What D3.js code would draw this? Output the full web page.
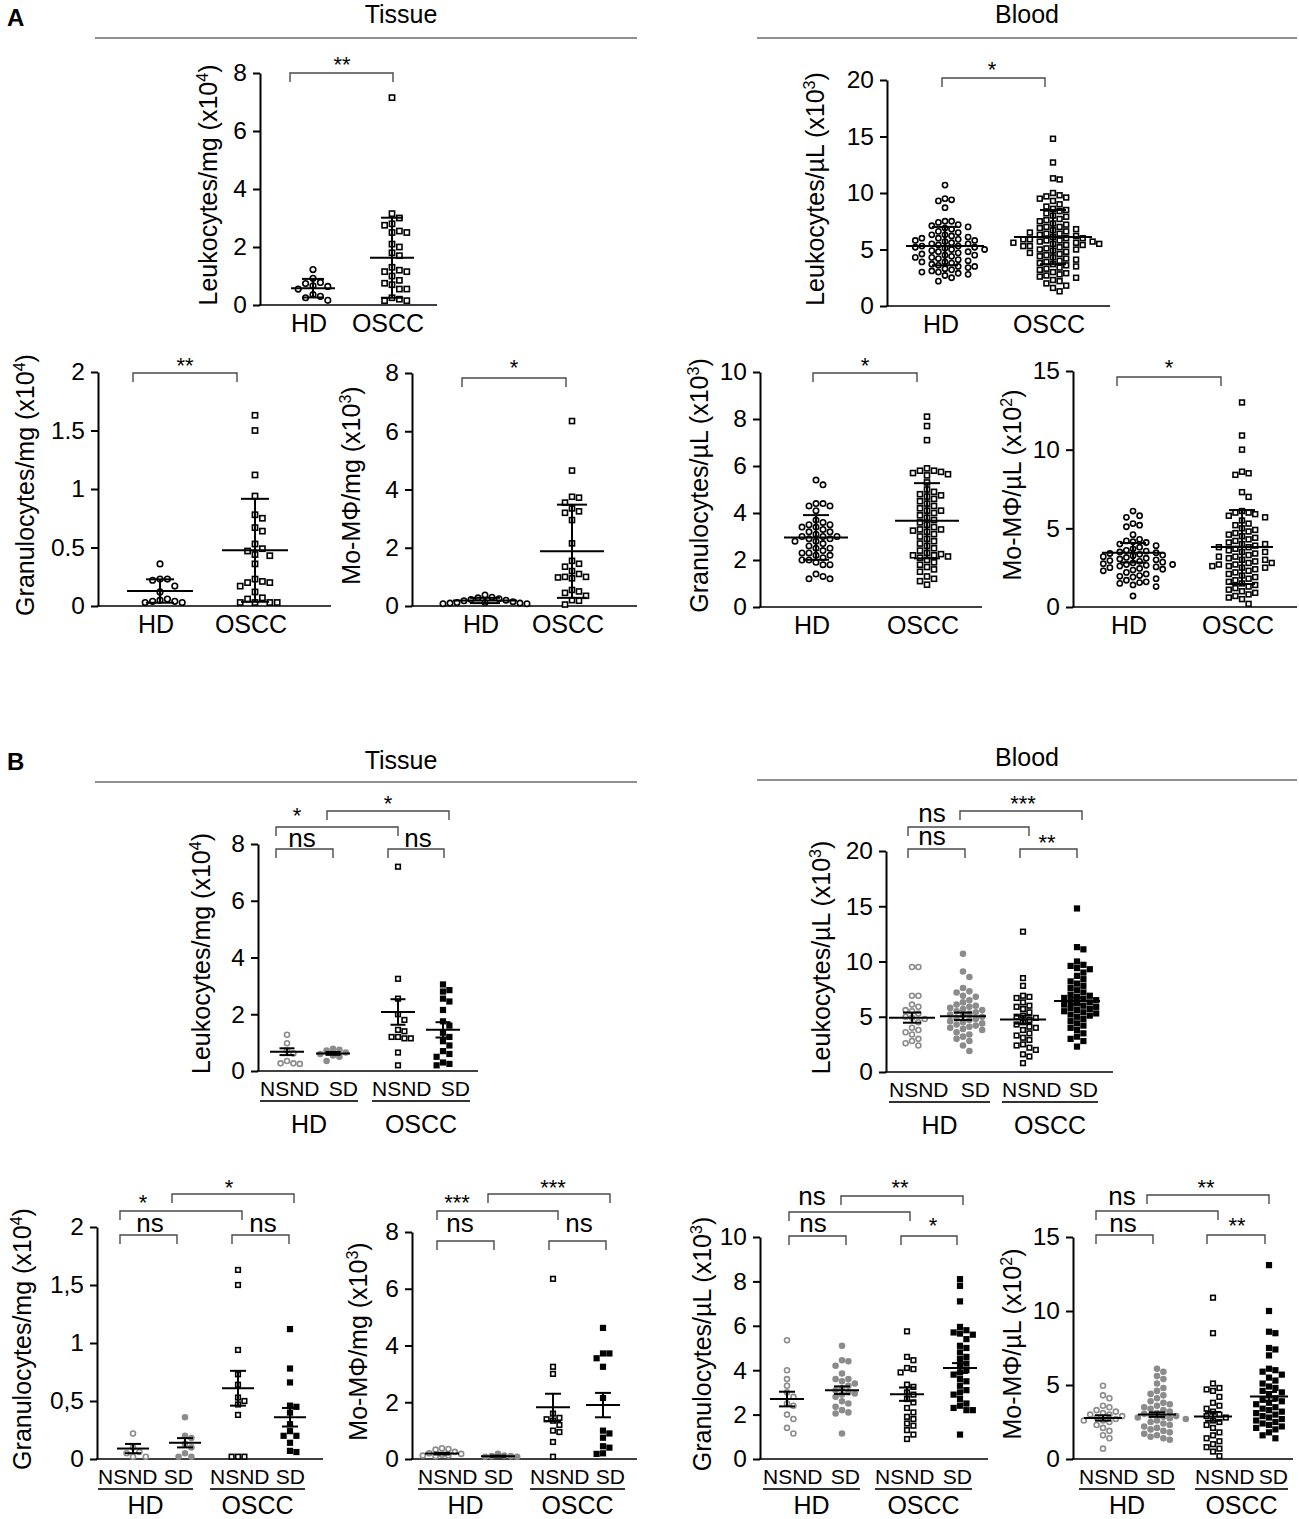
<!DOCTYPE html>
<html>
<head>
<meta charset="utf-8">
<script src="https://cdn.jsdelivr.net/npm/d3@7"></script>
<style>
  body { margin: 0; background: #fff; }
  svg { display: block; }
</style>
</head>
<body>
<script>
const FONT = "'Liberation Sans', Arial, Helvetica, sans-serif";

// ---------- categories ----------
const groupsA = ["HD", "OSCC"];
const subgroupsB = ["NSND", "SD"];
const cohortsB = ["HD", "OSCC"];

// ---------- tick values / labels ----------
const ticksTisLeuk = [0, 2, 4, 6, 8];
const ticksBldLeuk = [0, 5, 10, 15, 20];
const ticksTisGran = [0, 0.5, 1, 1.5, 2];
const ticksTisMo = [0, 2, 4, 6, 8];
const ticksBldGran = [0, 2, 4, 6, 8, 10];
const ticksBldMo = [0, 5, 10, 15];
const tickLabelsTisGranA = ["0", "0.5", "1", "1.5", "2"];
const tickLabelsTisGranB = ["0", "0,5", "1", "1,5", "2"];

// ---------- axis titles [text, superscript, tail] ----------
const titleTisLeuk = ["Leukocytes/mg (x10", "4", ")"];
const titleBldLeuk = ["Leukocytes/\u00b5L (x10", "3", ")"];
const titleTisGran = ["Granulocytes/mg (x10", "4", ")"];
const titleTisMo = ["Mo-M\u03a6/mg (x10", "3", ")"];
const titleBldGran = ["Granulocytes/\u00b5L (x10", "3", ")"];
const titleBldMo = ["Mo-M\u03a6/\u00b5L (x10", "2", ")"];

// ---------- A: HD vs OSCC (mean ± SD) ----------
const aTisLeukHD = [1.22, 0.92, 0.78, 0.74, 0.66, 0.64, 0.55, 0.36, 0.3, 0.25, 0.16];
const aTisLeukOSCC = [7.15, 3.15, 3.0, 2.8, 2.75, 2.55, 2.5, 2.5, 2.1, 2.0, 1.8, 1.7, 1.3, 1.2, 1.15, 1.15, 1.0, 0.85, 0.75, 0.7, 0.55, 0.55, 0.25, 0.2, 0.15, 0.15];
const aTisLeukMean = [0.58, 1.63];
const aTisLeukErr = [0.32, 1.38];

const aBldLeukHD = [10.7, 9.5, 9.4, 9.3, 8.7, 7.5, 7.5, 7.4, 7.2, 7.1, 7.0, 6.9, 6.8, 6.6, 6.5, 6.3, 6.3, 6.2, 6.1, 6.0, 6.0, 5.9, 5.8, 5.8, 5.7, 5.6, 5.5, 5.5, 5.4, 5.3, 5.3, 5.2, 5.2, 5.1, 5.0, 5.0, 4.9, 4.8, 4.8, 4.7, 4.6, 4.5, 4.5, 4.4, 4.3, 4.3, 4.2, 4.1, 4.0, 3.9, 3.9, 3.8, 3.7, 3.6, 3.5, 3.5, 3.4, 3.3, 3.2, 3.1, 3.0, 3.0, 2.9, 2.8, 2.7, 2.5, 2.2];
const aBldLeukOSCC = [14.8, 12.7, 11.3, 11.2, 10.0, 9.8, 9.7, 9.6, 9.5, 9.3, 9.0, 8.8, 8.6, 8.5, 8.4, 8.2, 8.0, 7.9, 7.7, 7.6, 7.5, 7.3, 7.2, 7.0, 7.0, 6.9, 6.8, 6.7, 6.6, 6.5, 6.4, 6.4, 6.3, 6.2, 6.1, 6.0, 6.0, 5.9, 5.9, 5.8, 5.8, 5.7, 5.7, 5.6, 5.6, 5.5, 5.5, 5.4, 5.4, 5.3, 5.3, 5.2, 5.1, 5.0, 5.0, 4.9, 4.8, 4.7, 4.6, 4.5, 4.4, 4.3, 4.2, 4.1, 4.0, 3.9, 3.8, 3.7, 3.6, 3.5, 3.4, 3.3, 3.2, 3.0, 2.9, 2.8, 2.7, 2.6, 2.5, 2.3, 2.2, 2.0, 1.8, 1.6, 1.3];
const aBldLeukMean = [5.3, 6.1];
const aBldLeukErr = [1.7, 2.4];

const aTisGranHD = [0.36, 0.23, 0.23, 0.22, 0.17, 0.12, 0.06, 0.05, 0.04, 0.04, 0.03, 0.03];
const aTisGranOSCC = [1.63, 1.5, 1.12, 0.94, 0.78, 0.75, 0.67, 0.64, 0.53, 0.49, 0.47, 0.44, 0.43, 0.36, 0.23, 0.21, 0.2, 0.2, 0.17, 0.12, 0.07, 0.06, 0.03, 0.03, 0.03, 0.03];
const aTisGranMean = [0.128, 0.476];
const aTisGranErr = [0.1, 0.44];

const aTisMoHD = [0.38, 0.3, 0.28, 0.25, 0.22, 0.2, 0.18, 0.15, 0.12, 0.12, 0.1, 0.1, 0.08, 0.08];
const aTisMoOSCC = [6.35, 4.65, 3.75, 3.72, 3.55, 3.35, 3.25, 3.2, 2.95, 2.15, 1.55, 1.45, 1.35, 1.2, 1.1, 1.0, 0.98, 1.0, 0.95, 0.55, 0.5, 0.45, 0.35, 0.2, 0.18, 0.05];
const aTisMoMean = [0.19, 1.88];
const aTisMoErr = [0.09, 1.6];

const aBldGranHD = [5.4, 5.2, 4.4, 4.4, 4.3, 4.3, 4.1, 3.7, 3.6, 3.5, 3.5, 3.4, 3.4, 3.3, 3.2, 3.2, 3.1, 3.0, 3.0, 3.0, 2.9, 2.9, 2.8, 2.8, 2.7, 2.6, 2.5, 2.5, 2.4, 2.3, 2.3, 2.2, 2.2, 2.1, 2.0, 2.0, 1.9, 1.8, 1.8, 1.4, 1.3, 1.2, 1.2];
const aBldGranOSCC = [8.1, 7.7, 7.1, 5.9, 5.8, 5.8, 5.75, 5.7, 5.65, 5.6, 5.3, 5.0, 4.9, 4.8, 4.75, 4.7, 4.6, 4.5, 4.4, 4.3, 4.2, 4.1, 4.1, 4.0, 3.9, 3.8, 3.7, 3.6, 3.5, 3.4, 3.3, 3.3, 3.25, 3.2, 3.1, 3.0, 2.9, 2.8, 2.7, 2.6, 2.5, 2.4, 2.3, 2.25, 2.2, 2.2, 2.15, 2.1, 2.0, 1.9, 1.8, 1.7, 1.6, 1.5, 1.3, 1.2, 1.1, 0.95];
const aBldGranMean = [2.96, 3.67];
const aBldGranErr = [0.95, 1.6];

const aBldMoHD = [6.1, 5.8, 5.7, 5.3, 5.2, 5.1, 4.6, 4.3, 4.2, 4.15, 4.1, 4.0, 3.9, 3.8, 3.7, 3.6, 3.55, 3.5, 3.45, 3.4, 3.35, 3.3, 3.25, 3.2, 3.15, 3.1, 3.05, 3.0, 2.95, 2.9, 2.85, 2.8, 2.75, 2.7, 2.7, 2.65, 2.6, 2.55, 2.5, 2.45, 2.4, 2.35, 2.3, 2.2, 2.1, 2.0, 1.95, 1.9, 1.8, 1.7, 1.6, 1.55, 1.5, 1.4, 1.3, 0.7];
const aBldMoOSCC = [13.0, 10.9, 10.0, 8.6, 8.5, 8.4, 7.3, 7.0, 6.1, 6.0, 6.0, 5.9, 5.8, 5.7, 5.5, 5.3, 5.2, 5.0, 4.9, 4.8, 4.7, 4.6, 4.5, 4.4, 4.3, 4.2, 4.1, 4.0, 4.0, 3.9, 3.8, 3.8, 3.7, 3.6, 3.5, 3.5, 3.4, 3.3, 3.2, 3.2, 3.1, 3.0, 3.0, 2.9, 2.8, 2.8, 2.7, 2.7, 2.6, 2.6, 2.5, 2.5, 2.4, 2.3, 2.2, 2.1, 2.0, 1.9, 1.8, 1.7, 1.6, 1.5, 1.4, 1.3, 1.2, 1.1, 1.0, 0.9, 0.8, 0.7, 0.6, 0.5, 0.2];
const aBldMoMean = [3.45, 3.81];
const aBldMoErr = [0.62, 2.35];

const sigA = ["**", "*", "**", "*", "*", "*"];

// ---------- B: NSND / SD within HD and OSCC (mean ± SEM) ----------
const bTisLeukHDn = [1.28, 0.98, 0.72, 0.62, 0.35, 0.27, 0.25, 0.27];
const bTisLeukHDs = [0.78, 0.75, 0.72, 0.65, 0.6, 0.55, 0.5, 0.35];
const bTisLeukOSn = [7.2, 3.25, 2.55, 2.0, 1.8, 1.45, 1.4, 1.2, 1.2, 1.15, 1.15, 0.65, 0.2];
const bTisLeukOSs = [3.05, 2.85, 2.8, 2.55, 2.45, 2.15, 1.75, 1.6, 1.35, 1.2, 1.05, 0.9, 0.7, 0.6, 0.5, 0.3, 0.25, 0.2];
const bTisLeukMean = [0.68, 0.62, 2.08, 1.45];
const bTisLeukErr = [0.12, 0.05, 0.45, 0.27];
const sigTisLeuk = ["ns", "ns", "*", "*"];

const bBldLeukHDn = [9.5, 9.5, 6.9, 6.9, 6.1, 5.9, 5.6, 5.5, 5.3, 5.0, 4.9, 4.8, 4.5, 4.0, 3.8, 3.6, 3.4, 3.0, 2.8, 2.6, 2.4];
const bBldLeukHDs = [10.7, 9.1, 8.6, 7.6, 7.3, 7.2, 6.9, 6.8, 6.5, 6.3, 6.1, 6.0, 5.9, 5.8, 5.7, 5.6, 5.5, 5.4, 5.3, 5.2, 5.1, 5.0, 4.9, 4.8, 4.7, 4.6, 4.5, 4.4, 4.3, 4.2, 4.1, 4.0, 3.9, 3.8, 3.6, 3.4, 3.2, 3.0, 2.8, 2.4, 1.9];
const bBldLeukOSn = [12.7, 8.5, 7.8, 6.9, 6.8, 6.7, 6.3, 6.0, 5.9, 5.7, 5.4, 5.1, 5.0, 4.9, 4.7, 4.5, 4.3, 4.1, 4.0, 3.8, 3.5, 3.3, 3.1, 2.9, 2.5, 2.4, 2.2, 2.0, 1.6, 1.4, 0.8];
const bBldLeukOSs = [14.8, 11.3, 11.1, 10.0, 9.7, 9.6, 9.4, 9.3, 9.0, 8.7, 8.4, 8.2, 8.0, 7.8, 7.6, 7.4, 7.2, 7.0, 6.9, 6.8, 6.7, 6.6, 6.5, 6.4, 6.3, 6.2, 6.1, 6.0, 5.9, 5.8, 5.7, 5.6, 5.5, 5.4, 5.3, 5.2, 5.1, 5.0, 4.8, 4.6, 4.4, 4.2, 4.0, 3.8, 3.5, 3.2, 3.0, 2.8, 2.3];
const bBldLeukMean = [4.92, 5.04, 4.74, 6.43];
const bBldLeukErr = [0.46, 0.34, 0.36, 0.3];
const sigBldLeuk = ["ns", "ns", "***", "**"];

const bTisGranHDn = [0.22, 0.1, 0.06, 0.05, 0.02, 0.02];
const bTisGranHDs = [0.36, 0.2, 0.18, 0.13, 0.1, 0.05, 0.02, 0.02];
const bTisGranOSn = [1.63, 1.5, 0.94, 0.73, 0.64, 0.53, 0.5, 0.47, 0.38, 0.02, 0.02, 0.02];
const bTisGranOSs = [1.12, 0.78, 0.66, 0.46, 0.45, 0.4, 0.3, 0.24, 0.2, 0.2, 0.14, 0.07, 0.06];
const bTisGranMean = [0.09, 0.14, 0.61, 0.36];
const bTisGranErr = [0.04, 0.04, 0.15, 0.08];
const sigTisGran = ["ns", "ns", "*", "*"];

const bTisMoHDn = [0.38, 0.35, 0.33, 0.25, 0.2, 0.18, 0.15, 0.12, 0.12, 0.1];
const bTisMoHDs = [0.18, 0.12, 0.1, 0.1, 0.08, 0.08];
const bTisMoOSn = [6.35, 3.25, 3.0, 1.6, 1.45, 1.4, 1.35, 1.2, 1.0, 0.95, 0.6, 0.08];
const bTisMoOSs = [4.62, 3.72, 3.72, 3.55, 3.25, 2.15, 1.0, 0.9, 0.75, 0.45, 0.4, 0.2, 0.18];
const bTisMoMean = [0.19, 0.1, 1.82, 1.9];
const bTisMoErr = [0.03, 0.02, 0.48, 0.43];
const sigTisMo = ["ns", "ns", "***", "***"];

const bBldGranHDn = [5.35, 4.0, 3.6, 3.3, 3.0, 2.8, 2.5, 2.4, 2.0, 1.8, 1.4, 1.15];
const bBldGranHDs = [5.1, 4.45, 4.4, 4.2, 3.85, 3.6, 3.6, 3.5, 3.4, 3.3, 3.2, 3.1, 3.0, 2.95, 2.9, 2.8, 2.6, 2.5, 2.35, 2.2, 2.1, 2.05, 1.15];
const bBldGranOSn = [5.75, 4.6, 4.45, 4.1, 4.05, 3.9, 3.35, 3.25, 3.0, 2.9, 2.7, 2.55, 2.3, 2.1, 1.9, 1.8, 1.6, 1.5, 1.3, 1.1, 0.9];
const bBldGranOSs = [8.1, 7.8, 7.1, 5.95, 5.8, 5.7, 5.65, 5.6, 5.4, 5.1, 5.0, 4.8, 4.6, 4.5, 4.3, 4.2, 4.0, 3.9, 3.8, 3.6, 3.5, 3.3, 3.1, 3.0, 2.9, 2.7, 2.5, 2.4, 2.3, 2.2, 2.2, 1.1];
const bBldGranMean = [2.7, 3.1, 2.92, 4.1];
const bBldGranErr = [0.33, 0.17, 0.3, 0.22];
const sigBldGran = ["ns", "ns", "**", "*"];

const bBldMoHDn = [4.95, 4.3, 4.1, 3.6, 3.5, 3.3, 3.2, 3.1, 3.0, 3.0, 2.9, 2.8, 2.7, 2.6, 2.6, 2.5, 2.3, 2.1, 1.9, 1.6, 1.4, 0.7];
const bBldMoHDs = [6.1, 5.9, 5.6, 5.4, 5.1, 4.8, 4.6, 4.4, 4.3, 4.1, 3.9, 3.8, 3.7, 3.6, 3.5, 3.4, 3.3, 3.2, 3.1, 3.05, 2.95, 2.9, 2.85, 2.8, 2.75, 2.7, 2.6, 2.5, 2.4, 2.3, 2.2, 2.1, 2.0, 1.9, 1.8, 1.7, 1.6, 1.5, 1.4, 1.3];
const bBldMoOSn = [10.9, 8.5, 5.1, 4.8, 4.7, 4.6, 4.2, 3.8, 3.6, 3.4, 3.2, 3.0, 2.9, 2.8, 2.6, 2.5, 2.3, 2.1, 1.8, 1.6, 1.4, 1.2, 1.0, 0.8, 0.7, 0.5, 0.2];
const bBldMoOSs = [13.1, 10.0, 8.6, 8.5, 7.5, 7.4, 7.0, 6.1, 6.0, 5.9, 5.7, 5.5, 5.3, 5.1, 4.9, 4.8, 4.6, 4.5, 4.3, 4.1, 4.0, 3.9, 3.8, 3.7, 3.5, 3.4, 3.3, 3.2, 3.1, 3.0, 2.9, 2.8, 2.7, 2.6, 2.5, 2.4, 2.3, 2.2, 2.1, 2.0, 1.8, 1.6, 1.4];
const bBldMoMean = [2.77, 3.0, 2.88, 4.23];
const bBldMoErr = [0.18, 0.15, 0.3, 0.3];
const sigBldMo = ["ns", "ns", "**", "**"];

// ---------- marker styles ----------
const styles = {
  openCircle: { shape: "circle", stroke: "#000", fill: "#fff" },
  openSquare: { shape: "square", stroke: "#000", fill: "#fff" },
  greyOpen:   { shape: "circle", stroke: "#8c8c8c", fill: "#fff" },
  greyFill:   { shape: "circle", stroke: "#8c8c8c", fill: "#8c8c8c" },
  fillSquare: { shape: "square", stroke: "#000", fill: "#000" }
};

const svg = d3.select("body").append("svg")
  .attr("width", 1299).attr("height", 1519)
  .attr("font-family", FONT);

svg.append("rect").attr("width", 1299).attr("height", 1519).attr("fill", "#fff");

// simple beeswarm: nearest free horizontal slot, top to bottom
function swarm(values, y, step) {
  const pts = values.map(v => ({ v, py: y(v) })).sort((a, b) => a.py - b.py);
  const placed = [];
  pts.forEach(p => {
    for (let k = 0; k < 200; k++) {
      const off = (k % 2 ? 1 : -1) * Math.ceil(k / 2) * step / 2;
      const hit = placed.some(q => Math.abs(q.py - p.py) < step && Math.abs(q.dx - off) < step);
      if (!hit) { p.dx = off; break; }
    }
    placed.push(p);
  });
  return placed;
}

function drawPanel(p) {
  const g = svg.append("g");
  const yMax = d3.max(p.ticks);
  const y = d3.scaleLinear().domain([0, yMax]).range([p.yBot, p.yTop]);
  const x = d3.scaleOrdinal().domain(d3.range(p.groups.length)).range(p.centers);

  // y axis
  const ax = g.append("g")
    .attr("transform", `translate(${p.axisX},0)`)
    .call(d3.axisLeft(y)
      .tickValues(p.ticks)
      .tickFormat((d, i) => p.tickLabels ? p.tickLabels[i] : d)
      .tickSize(7).tickSizeOuter(0).tickPadding(6));
  ax.select(".domain").attr("stroke", "#000").attr("stroke-width", 2);
  ax.selectAll(".tick line").attr("stroke", "#000").attr("stroke-width", 2);
  ax.selectAll(".tick text")
    .attr("font-size", 24.5).attr("font-family", FONT).attr("fill", "#000");

  // x axis baseline
  g.append("line")
    .attr("x1", p.axisX - 1).attr("x2", p.xEnd)
    .attr("y1", p.yBot).attr("y2", p.yBot)
    .attr("stroke", "#000").attr("stroke-width", 1.6);

  // y title
  const ty = g.append("text")
    .attr("transform", `translate(${p.titleX},${(p.yTop + p.yBot) / 2 - 4}) rotate(-90)`)
    .attr("text-anchor", "middle").attr("dy", "0.36em")
    .attr("font-size", 25).attr("fill", "#000");
  ty.append("tspan").text(p.title[0]);
  ty.append("tspan").text(p.title[1]).attr("font-size", 16).attr("dy", "-0.55em");
  ty.append("tspan").text(p.title[2]).attr("dy", "0.35em");

  // points
  p.groups.forEach((grp, gi) => {
    const st = styles[grp.style];
    const cx = x(gi);
    const pos = swarm(grp.values, y, p.step);
    const s = p.size;
    if (st.shape === "circle") {
      g.append("g").selectAll("circle").data(pos).enter().append("circle")
        .attr("cx", d => cx + d.dx).attr("cy", d => d.py)
        .attr("r", s / 2 - 0.5)
        .attr("fill", st.fill).attr("stroke", st.stroke).attr("stroke-width", 1.6);
    } else {
      g.append("g").selectAll("rect").data(pos).enter().append("rect")
        .attr("x", d => cx + d.dx - s / 2 + 0.7).attr("y", d => d.py - s / 2 + 0.7)
        .attr("width", s - 1.4).attr("height", s - 1.4)
        .attr("fill", st.fill).attr("stroke", st.stroke).attr("stroke-width", 1.6);
    }
  });

  // mean and error bars
  p.means.forEach((m, gi) => {
    const cx = x(gi);
    const e = p.errs[gi];
    const bar = g.append("g").attr("stroke", "#000").attr("stroke-width", 2);
    bar.append("line").attr("x1", cx - p.meanW / 2).attr("x2", cx + p.meanW / 2)
      .attr("y1", y(m)).attr("y2", y(m));
    bar.append("line").attr("x1", cx).attr("x2", cx)
      .attr("y1", y(Math.max(0, m - e))).attr("y2", y(m + e));
    [m - e, m + e].forEach(v => {
      if (v < 0) return;
      bar.append("line").attr("x1", cx - p.capW / 2).attr("x2", cx + p.capW / 2)
        .attr("y1", y(v)).attr("y2", y(v));
    });
  });

  // significance brackets
  p.brackets.forEach((b, bi) => {
    const x1 = x(b.a) + b.d1, x2 = x(b.b) + b.d2;
    g.append("path")
      .attr("d", `M${x1},${b.y + 9}V${b.y}H${x2}V${b.y + 9}`)
      .attr("fill", "none").attr("stroke", "#4a4a4a").attr("stroke-width", 1.4);
    const lab = p.sig[bi];
    g.append("text").attr("x", b.lx).attr("y", lab === "ns" ? b.ly : b.ly - 2)
      .attr("text-anchor", "middle")
      .attr("font-size", lab === "ns" ? 26 : 22).attr("fill", "#000")
      .text(lab);
  });

  // category labels
  if (p.kind === "A") {
    p.groups.forEach((grp, gi) => {
      g.append("text").attr("x", x(gi) - 4).attr("y", p.yBot + 27)
        .attr("text-anchor", "middle").attr("font-size", 25).attr("fill", "#000")
        .text(groupsA[gi]);
    });
  } else {
    p.under.forEach((u, ci) => {
      g.append("text").attr("x", u[0]).attr("y", p.yBot + 25)
        .attr("text-anchor", "start").attr("font-size", 21).text(subgroupsB[0]);
      g.append("text").attr("x", u[1]).attr("y", p.yBot + 25)
        .attr("text-anchor", "end").attr("font-size", 21).text(subgroupsB[1]);
      g.append("line").attr("x1", u[0]).attr("x2", u[1])
        .attr("y1", p.yBot + 30).attr("y2", p.yBot + 30)
        .attr("stroke", "#333").attr("stroke-width", 2);
      g.append("text").attr("x", (u[0] + u[1]) / 2).attr("y", p.yBot + p.cohortDy)
        .attr("text-anchor", "middle").attr("font-size", 25).text(cohortsB[ci]);
    });
  }
}

function groupsOfA(hd, oscc) {
  return [{ values: hd, style: "openCircle" }, { values: oscc, style: "openSquare" }];
}
function groupsOfB(hn, hs, on, os) {
  return [
    { values: hn, style: "greyOpen" }, { values: hs, style: "greyFill" },
    { values: on, style: "openSquare" }, { values: os, style: "fillSquare" }
  ];
}
function one(yb, d1, d2, lx, ly) {
  return [{ a: 0, b: 1, y: yb, d1, d2, lx, ly }];
}

const panels = [
  // ----- A, top row -----
  { kind: "A", axisX: 260, yTop: 73, yBot: 305, xEnd: 437, centers: [313, 392], titleX: 208,
    ticks: ticksTisLeuk, title: titleTisLeuk, groups: groupsOfA(aTisLeukHD, aTisLeukOSCC),
    means: aTisLeukMean, errs: aTisLeukErr, meanW: 44, capW: 22, step: 7.4, size: 6.6,
    brackets: one(73, -23, 1, 342, 74), sig: [sigA[0]] },
  { kind: "A", axisX: 887, yTop: 80, yBot: 306, xEnd: 1110, centers: [945, 1053], titleX: 815,
    ticks: ticksBldLeuk, title: titleBldLeuk, groups: groupsOfA(aBldLeukHD, aBldLeukOSCC),
    means: aBldLeukMean, errs: aBldLeukErr, meanW: 78, capW: 26, step: 6.6, size: 6.2,
    brackets: one(78, -3, -8, 992, 79), sig: [sigA[1]] },
  // ----- A, bottom row -----
  { kind: "A", axisX: 98, yTop: 372, yBot: 606, xEnd: 331, centers: [160, 255], titleX: 25,
    ticks: ticksTisGran, tickLabels: tickLabelsTisGranA, title: titleTisGran,
    groups: groupsOfA(aTisGranHD, aTisGranOSCC),
    means: aTisGranMean, errs: aTisGranErr, meanW: 66, capW: 28, step: 7.4, size: 6.6,
    brackets: one(373, -27, -18, 185, 375), sig: [sigA[2]] },
  { kind: "A", axisX: 412, yTop: 373, yBot: 606, xEnd: 637, centers: [485, 572], titleX: 351,
    ticks: ticksTisMo, title: titleTisMo, groups: groupsOfA(aTisMoHD, aTisMoOSCC),
    means: aTisMoMean, errs: aTisMoErr, meanW: 64, capW: 30, step: 7.0, size: 6.4,
    brackets: one(378, -23, -6, 514, 377), sig: [sigA[3]] },
  { kind: "A", axisX: 760, yTop: 372, yBot: 607, xEnd: 982, centers: [816, 927], titleX: 699,
    ticks: ticksBldGran, title: titleBldGran, groups: groupsOfA(aBldGranHD, aBldGranOSCC),
    means: aBldGranMean, errs: aBldGranErr, meanW: 64, capW: 26, step: 7.0, size: 6.4,
    brackets: one(373, -3, -10, 865, 375), sig: [sigA[4]] },
  { kind: "A", axisX: 1073, yTop: 371, yBot: 607, xEnd: 1297, centers: [1133, 1242], titleX: 1012,
    ticks: ticksBldMo, title: titleBldMo, groups: groupsOfA(aBldMoHD, aBldMoOSCC),
    means: aBldMoMean, errs: aBldMoErr, meanW: 62, capW: 26, step: 6.6, size: 6.2,
    brackets: one(377, -16, -21, 1169, 377), sig: [sigA[5]] },

  // ----- B, top row -----
  { kind: "B", axisX: 258, yTop: 844, yBot: 1071, xEnd: 478, centers: [287, 333, 398, 443], titleX: 201,
    ticks: ticksTisLeuk, title: titleTisLeuk,
    groups: groupsOfB(bTisLeukHDn, bTisLeukHDs, bTisLeukOSn, bTisLeukOSs),
    means: bTisLeukMean, errs: bTisLeukErr, meanW: 34, capW: 15, step: 6.4, size: 6,
    under: [[260, 358], [372, 470]], cohortDy: 62,
    brackets: [
      { a: 0, b: 1, y: 849, d1: -11, d2: 0, lx: 302, ly: 847 },
      { a: 2, b: 3, y: 849, d1: -10, d2: 1, lx: 418, ly: 847 },
      { a: 0, b: 2, y: 827, d1: -11, d2: 0, lx: 297, ly: 825 },
      { a: 1, b: 3, y: 811, d1: -6, d2: 6, lx: 388, ly: 813 }
    ], sig: sigTisLeuk },
  { kind: "B", axisX: 886, yTop: 851, yBot: 1072, xEnd: 1113, centers: [912, 963, 1023, 1077], titleX: 821,
    ticks: ticksBldLeuk, title: titleBldLeuk,
    groups: groupsOfB(bBldLeukHDn, bBldLeukHDs, bBldLeukOSn, bBldLeukOSs),
    means: bBldLeukMean, errs: bBldLeukErr, meanW: 46, capW: 18, step: 6.4, size: 6,
    under: [[889, 990], [1002, 1098]], cohortDy: 62,
    brackets: [
      { a: 0, b: 1, y: 849, d1: -4, d2: 2, lx: 932, ly: 845 },
      { a: 0, b: 2, y: 827, d1: -4, d2: 6, lx: 932, ly: 822 },
      { a: 1, b: 3, y: 811, d1: -3, d2: 5, lx: 1023, ly: 813 },
      { a: 2, b: 3, y: 849, d1: -3, d2: 0, lx: 1047, ly: 852 }
    ], sig: sigBldLeuk },

  // ----- B, bottom row -----
  { kind: "B", axisX: 97, yTop: 1227, yBot: 1459, xEnd: 323, centers: [133, 185, 238, 290], titleX: 22,
    ticks: ticksTisGran, tickLabels: tickLabelsTisGranB, title: titleTisGran,
    groups: groupsOfB(bTisGranHDn, bTisGranHDs, bTisGranOSn, bTisGranOSs),
    means: bTisGranMean, errs: bTisGranErr, meanW: 32, capW: 16, step: 6.4, size: 6,
    under: [[98, 193], [210, 305]], cohortDy: 55,
    brackets: [
      { a: 0, b: 1, y: 1235, d1: -13, d2: -8, lx: 150, ly: 1232 },
      { a: 2, b: 3, y: 1235, d1: -6, d2: -1, lx: 263, ly: 1232 },
      { a: 0, b: 2, y: 1211, d1: -13, d2: 4, lx: 143, ly: 1212 },
      { a: 1, b: 3, y: 1194, d1: -13, d2: 4, lx: 229, ly: 1197 }
    ], sig: sigTisGran },
  { kind: "B", axisX: 412, yTop: 1232, yBot: 1459, xEnd: 637, centers: [442, 498, 553, 603], titleX: 358,
    ticks: ticksTisMo, title: titleTisMo,
    groups: groupsOfB(bTisMoHDn, bTisMoHDs, bTisMoOSn, bTisMoOSs),
    means: bTisMoMean, errs: bTisMoErr, meanW: 34, capW: 16, step: 6.4, size: 6,
    under: [[418, 513], [530, 625]], cohortDy: 55,
    brackets: [
      { a: 0, b: 1, y: 1241, d1: -5, d2: -4, lx: 460, ly: 1232 },
      { a: 2, b: 3, y: 1241, d1: -4, d2: 3, lx: 579, ly: 1232 },
      { a: 0, b: 2, y: 1211, d1: -5, d2: 5, lx: 457, ly: 1212 },
      { a: 1, b: 3, y: 1194, d1: -10, d2: 7, lx: 553, ly: 1197 }
    ], sig: sigTisMo },
  { kind: "B", axisX: 760, yTop: 1237, yBot: 1459, xEnd: 988, centers: [787, 842, 907, 960], titleX: 702,
    ticks: ticksBldGran, title: titleBldGran,
    groups: groupsOfB(bBldGranHDn, bBldGranHDs, bBldGranOSn, bBldGranOSs),
    means: bBldGranMean, errs: bBldGranErr, meanW: 34, capW: 16, step: 6.4, size: 6,
    under: [[763, 860], [875, 972]], cohortDy: 55,
    brackets: [
      { a: 0, b: 1, y: 1236, d1: 2, d2: 4, lx: 813, ly: 1232 },
      { a: 0, b: 2, y: 1212, d1: 2, d2: 3, lx: 812, ly: 1205 },
      { a: 1, b: 3, y: 1196, d1: -1, d2: 3, lx: 900, ly: 1197 },
      { a: 2, b: 3, y: 1236, d1: -6, d2: -3, lx: 933, ly: 1235 }
    ], sig: sigBldGran },
  { kind: "B", axisX: 1073, yTop: 1237, yBot: 1459, xEnd: 1293, centers: [1103, 1157, 1213, 1269], titleX: 1012,
    ticks: ticksBldMo, title: titleBldMo,
    groups: groupsOfB(bBldMoHDn, bBldMoHDs, bBldMoOSn, bBldMoOSs),
    means: bBldMoMean, errs: bBldMoErr, meanW: 38, capW: 16, step: 6.4, size: 6,
    under: [[1079, 1175], [1195, 1288]], cohortDy: 55,
    brackets: [
      { a: 0, b: 1, y: 1235, d1: -7, d2: -4, lx: 1123, ly: 1232 },
      { a: 0, b: 2, y: 1211, d1: -7, d2: 5, lx: 1122, ly: 1205 },
      { a: 1, b: 3, y: 1195, d1: -10, d2: 0, lx: 1206, ly: 1197 },
      { a: 2, b: 3, y: 1235, d1: -6, d2: -4, lx: 1237, ly: 1235 }
    ], sig: sigBldMo }
];

panels.forEach(drawPanel);

// section headings
const headings = [
  { t: "Tissue", x: 401, y: 23, x1: 95, x2: 637, ly: 38 },
  { t: "Blood", x: 1027, y: 23, x1: 757, x2: 1297, ly: 38 },
  { t: "Tissue", x: 401, y: 769, x1: 95, x2: 637, ly: 782 },
  { t: "Blood", x: 1027, y: 766, x1: 757, x2: 1297, ly: 780 }
];
headings.forEach(h => {
  svg.append("text").attr("x", h.x).attr("y", h.y).attr("text-anchor", "middle")
    .attr("font-size", 25).text(h.t);
  svg.append("line").attr("x1", h.x1).attr("x2", h.x2).attr("y1", h.ly).attr("y2", h.ly)
    .attr("stroke", "#222").attr("stroke-width", 1.2);
});

svg.append("text").attr("x", 7).attr("y", 26).attr("font-size", 24).attr("font-weight", "bold").text("A");
svg.append("text").attr("x", 7).attr("y", 770).attr("font-size", 24).attr("font-weight", "bold").text("B");
</script>
</body>
</html>
